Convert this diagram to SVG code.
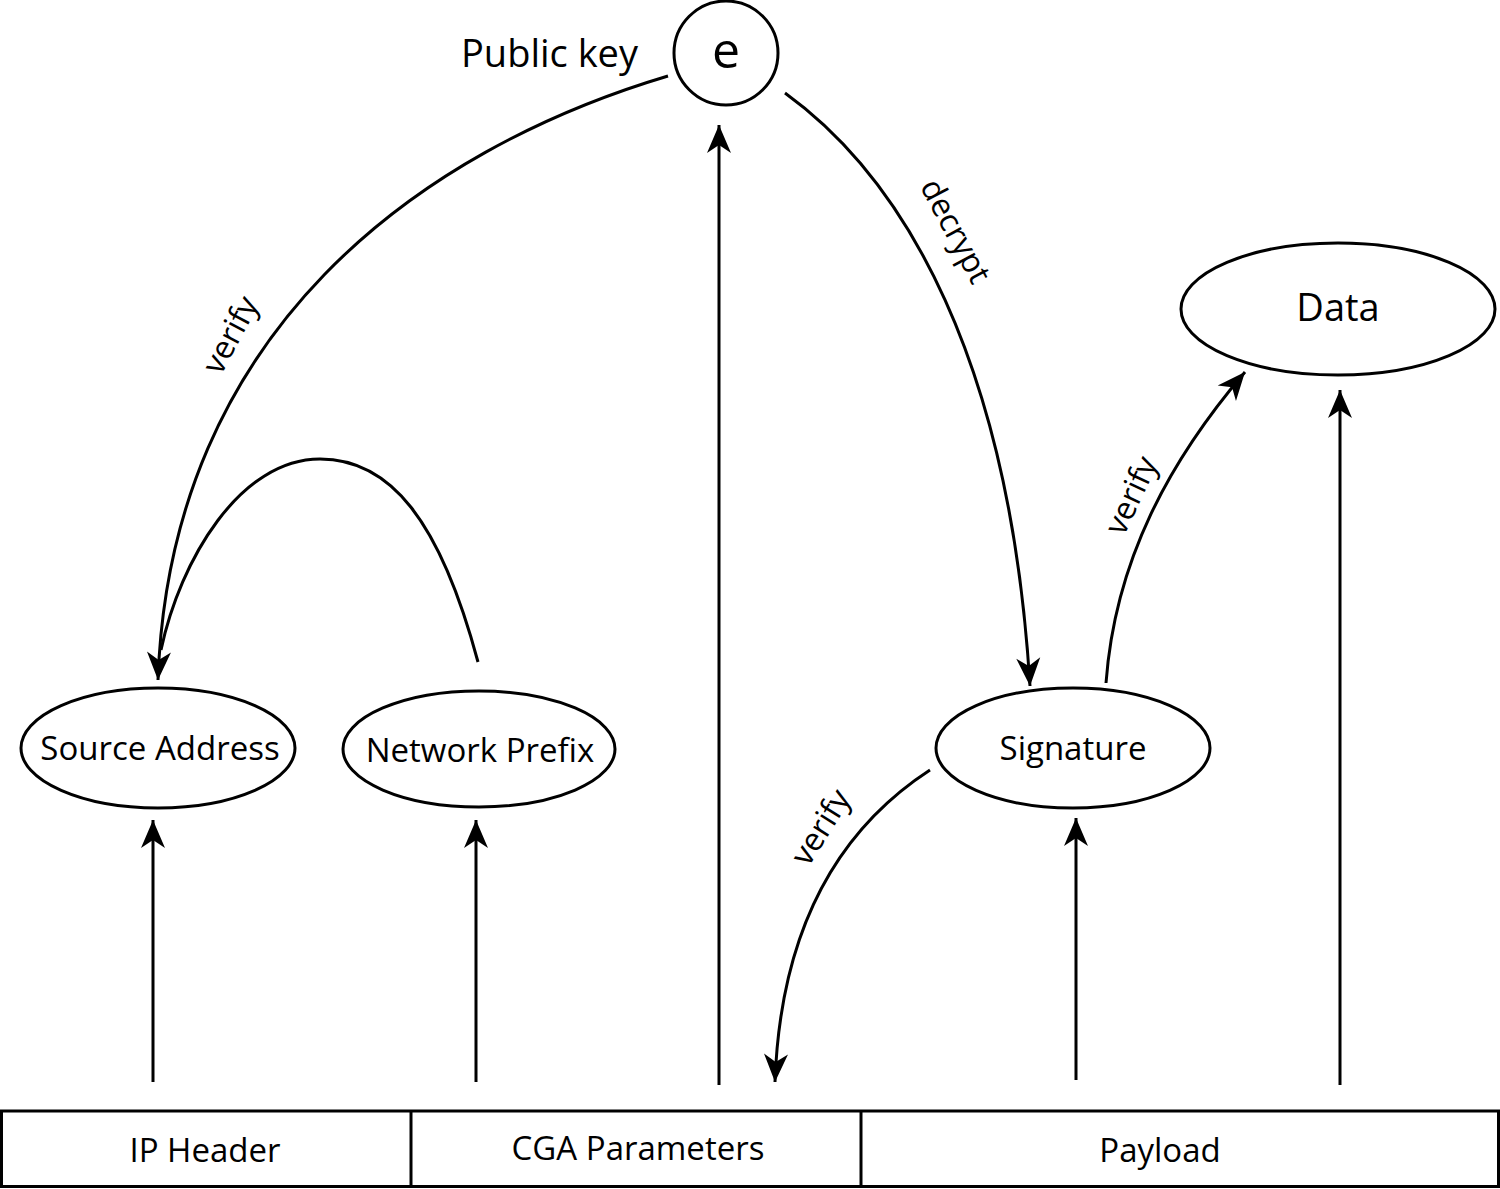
<svg xmlns="http://www.w3.org/2000/svg" width="1500" height="1189" viewBox="0 0 1500 1189">
<style>
.s{fill:none;stroke:#000;stroke-width:3}
.n{fill:#fff;stroke:#000;stroke-width:3}
text{font-family:"Open Sans","Liberation Sans",sans-serif;fill:#000}
.l{font-size:33px;text-anchor:middle}
.r{font-size:32px;text-anchor:middle}
.t{font-size:33px;text-anchor:middle}
</style>
<defs>
<marker id="a" viewBox="-30 -13 32 26" refX="0" refY="0" markerWidth="32" markerHeight="26" markerUnits="userSpaceOnUse" orient="auto">
<path d="M0,0 L-28,-12 L-20,0 L-28,12 Z" fill="#000"/>
</marker>
</defs>
<rect width="1500" height="1189" fill="#fff"/>
<g id="connectors">
<path class="s" d="M668,76 C420,150 170,330 158,680" marker-end="url(#a)"/>
<path class="s" d="M478,662 C440,520 390,459 320,459 C240,459 180,560 161,650"/>
<path class="s" d="M719,1085 L719,125" marker-end="url(#a)"/>
<path class="s" d="M785,93 C905,180 1010,360 1030,686" marker-end="url(#a)"/>
<path class="s" d="M1106,683 C1115,560 1170,460 1245,372" marker-end="url(#a)"/>
<path class="s" d="M930,770 C830,835 780,940 775,1082" marker-end="url(#a)"/>
<path class="s" d="M153,1082 L153,820" marker-end="url(#a)"/>
<path class="s" d="M476,1082 L476,820" marker-end="url(#a)"/>
<path class="s" d="M1076,1080 L1076,818" marker-end="url(#a)"/>
<path class="s" d="M1340,1085 L1340,390" marker-end="url(#a)"/>
<text class="r" transform="translate(240,340) rotate(-62)">verify</text>
<text class="r" transform="translate(946,236) rotate(62)">decrypt</text>
<text class="r" transform="translate(1141,500) rotate(-65)">verify</text>
<text class="r" transform="translate(830,833) rotate(-58)">verify</text>
</g>
<g id="public-key">
<circle class="n" cx="726" cy="53" r="52"/>
<text x="726" y="68" font-size="50" text-anchor="middle">e</text>
<text x="638" y="67" font-size="38" text-anchor="end">Public key</text>
</g>
<g id="data">
<ellipse class="n" cx="1338" cy="309" rx="157" ry="66"/>
<text x="1338" y="321" font-size="38" text-anchor="middle">Data</text>
</g>
<g id="source-address">
<ellipse class="n" cx="158" cy="748" rx="137" ry="60"/>
<text class="l" x="160" y="760">Source Address</text>
</g>
<g id="network-prefix">
<ellipse class="n" cx="479" cy="749" rx="136" ry="58"/>
<text class="l" x="480" y="762">Network Prefix</text>
</g>
<g id="signature">
<ellipse class="n" cx="1073" cy="748" rx="137" ry="60"/>
<text class="l" x="1073" y="760">Signature</text>
</g>
<g id="packet">
<rect x="1.5" y="1111" width="1497" height="75.5" fill="#fff" stroke="#000" stroke-width="3"/>
<line x1="411" y1="1111" x2="411" y2="1187" stroke="#000" stroke-width="3"/>
<line x1="861" y1="1111" x2="861" y2="1187" stroke="#000" stroke-width="3"/>
<text class="t" x="205" y="1162">IP Header</text>
<text class="t" x="638" y="1160">CGA Parameters</text>
<text class="t" x="1160" y="1162">Payload</text>
</g>
</svg>
